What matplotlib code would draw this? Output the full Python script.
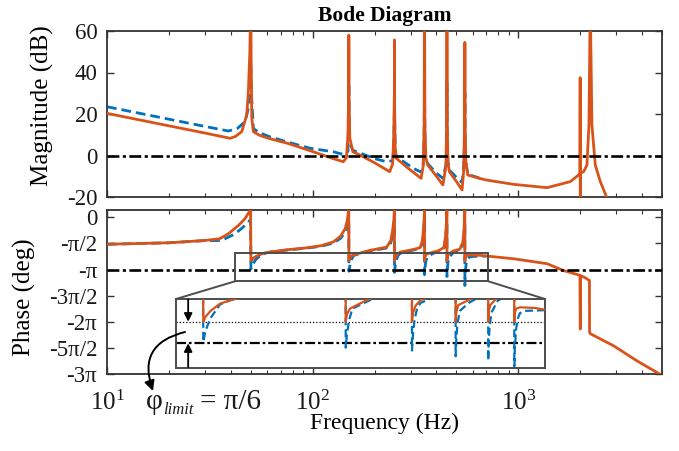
import matplotlib
matplotlib.use('Agg')
import matplotlib.pyplot as plt
from matplotlib.patches import Rectangle, ConnectionPatch
from matplotlib.ticker import NullLocator, FixedLocator, FixedFormatter

plt.rcParams['font.family'] = ['Liberation Serif', 'DejaVu Serif']
plt.rcParams['mathtext.fontset'] = 'custom'
plt.rcParams['mathtext.rm'] = 'Liberation Serif'
plt.rcParams['mathtext.it'] = 'Liberation Serif:italic'
plt.rcParams['mathtext.bf'] = 'Liberation Serif:bold'
plt.rcParams['axes.unicode_minus'] = False

ORANGE = '#D95319'
BLUE = '#0072BD'
GRAY = '#4d4d4d'

# ---------------- data ----------------
mag_orange_f = [10, 20, 30, 39.7, 42, 45.2, 47.8, 48.7, 49.5, 50,
                50.3, 50.6, 51.5, 55, 60.9, 76, 92, 110, 126, 141,
                146, 148.5, 149.7, 150, 150.3, 151.6, 157, 170, 200, 237,
                245, 248, 249.7, 250, 250.3, 252, 255, 290, 337, 345,
                348.5, 350, 351.5, 355, 363, 400, 430, 445, 448.5, 450,
                451.5, 455, 462, 500, 533, 542, 548.5, 550, 551.5, 556,
                568, 647, 697, 949, 1380, 1791, 1963, 1995, 2000, 2002,
                2006, 2080, 2157, 2207, 2239, 2281, 2369, 2506, 2704, 2900]
mag_orange_db = [20.3, 14.3, 10.8, 8.3, 9.1, 11.5, 19.5, 30.7, 50, 75,
                 40, 18, 11.5, 9.8, 8.3, 5.8, 3.1, 0.5, -1.5, -3.0,
                 -1, 10, 30, 58, 30, 8.4, 1.8, 0.2, -3.5, -7.8,
                 -4, 10, 30, 55.7, 25, 4, -1.3, -6, -11, -5,
                 15, 75, 15, -1, -4.6, -10, -14.2, -5, 15, 75,
                 15, -3, -7.8, -12.5, -16.6, -8, 15, 54.5, 15, -3,
                 -9.4, -11, -11.8, -13.9, -15.5, -12.6, -9.4, -8.8, 37.5, -40,
                 -8.5, -7.8, -4.6, 14.7, 75, 14.7, -4.6, -12.6, -20.6, -28]

mag_blue_f = [10, 20, 30, 38.9, 43, 46.9, 48.5, 49.6, 50, 50.4,
              51.5, 55, 62, 76, 97, 126, 141, 148.5, 149.7, 150,
              150.3, 151.6, 157, 200, 229, 245, 248, 249.7, 250, 250.3,
              252, 255, 309, 337, 345, 348.5, 350, 351.5, 355, 363,
              400, 430, 445, 448.5, 450, 451.5, 455, 462, 500, 533,
              542, 548.5, 550, 551.5, 556, 568, 651]
mag_blue_db = [23.5, 17.5, 14.0, 11.8, 13.0, 16.3, 22, 35, 45, 30,
               13, 11, 9, 6.4, 3.5, 1.8, 0.5, 2, 20, 35,
               20, 6, 2.5, -1.5, -3, -2.5, 5, 20, 35, 20,
               3, -0.5, -6.2, -8, -4, 8, 35, 8, -1, -4,
               -8.5, -11, -4.5, 8, 35, 8, -3, -7, -10.5, -13,
               -7, 8, 30, 8, -3, -9, -11]

ph_orange_f = [10, 20, 29.9, 35.3, 38.9, 43.6, 46.9, 49.1, 49.9,
               50.1, 51, 53, 57, 63, 75, 92, 110, 126, 137, 144, 147.5, 149.9,
               150.1, 151.5, 155, 167, 190, 229, 240, 245, 248.5, 249.9,
               250.1, 252, 257, 267, 300, 333, 342, 346, 348.8, 349.9,
               350.1, 352, 357, 387, 410, 435, 443, 447, 449.9,
               450.1, 452, 457, 484, 520, 538, 545, 549.9,
               550.1, 552, 558, 575, 647, 949, 1380, 1660, 1995, 2003,
               2005, 2100, 2219, 2222, 2250, 2911, 3785, 5000]
ph_orange_deg = [-93, -88, -80, -74, -57, -28, -5, 18, 30,
                 -150, -143, -135, -125, -119, -112, -106, -98, -85, -65, -39, -10, 30,
                 -150, -140, -132, -125, -114, -103, -80, -45, -5, 30,
                 -150, -138, -128, -120, -113, -105, -80, -40, 0, 30,
                 -150, -137, -127, -120, -115, -104, -65, -25, 30,
                 -150, -136, -127, -116, -110, -85, -40, 30,
                 -150, -138, -132, -130, -131, -143, -160, -183.5, -200, -385,
                 -201, -207, -218, -397, -402, -443, -495, -545]

ph_blue_f = [10, 20, 29.9, 35.3, 37.5, 42, 45.9, 48.5, 49.9,
             50.1, 51, 53, 57, 62, 68, 75, 92, 110, 126, 137, 144, 147.5, 149.9,
             150.1, 151.5, 154, 158, 167, 190, 229, 240, 245, 248.5, 249.9,
             250.1, 252, 255, 260, 267, 300, 333, 342, 346, 348.8, 349.9,
             350.1, 351.5, 355, 362, 387, 410, 435, 443, 447, 449.9,
             450.1, 451.5, 455, 462, 484, 520, 538, 545, 549.9,
             550.1, 552, 558, 566, 575, 600, 697]
ph_blue_deg = [-93, -88, -80.5, -80, -74, -57, -34, -18, -8,
               -178, -162, -145, -126, -120, -117, -113, -107, -100, -89, -72, -50, -25, -10,
               -186, -168, -148, -132, -127, -116, -106, -88, -60, -25, -12,
               -190, -168, -148, -132, -124, -115, -108, -88, -55, -20, -12,
               -198, -178, -152, -135, -124, -118, -107, -75, -40, -15,
               -204, -182, -155, -137, -121, -113, -92, -55, -15,
               -235, -190, -160, -145, -138, -135, -134]

mag_ticks = [-20, 0, 20, 40, 60]
mag_ticklabels = ['-20', '0', '20', '40', '60']
ph_ticks = [0, -90, -180, -270, -360, -450, -540]
ph_ticklabels = ['0', '-π/2', '-π', '-3π/2', '-2π', '-5π/2', '-3π']
x_ticks = [10, 100, 1000]
x_ticklabels = [r'$10^{1}$', r'$10^{2}$', r'$10^{3}$']

ref_mag = 0
ref_phase = -180
phi_limit_line = -150
zoom_src_f = (42, 714)
zoom_src_p = (-220.5, -124.6)
inset_f = (40.6, 697)
inset_p = (-214.3, -118.5)

# ---------------- figure ----------------
W, H = 679, 451
fig = plt.figure(figsize=(W / 100, H / 100), dpi=100)
ax1 = fig.add_axes([107 / W, 1 - 197 / H, 555 / W, 166 / H])
ax2 = fig.add_axes([107 / W, 1 - 374 / H, 555 / W, 164 / H])

DASHDOT = (4.5, 1.3, 1.2, 1.3)
BLUEDASH = (3.5, 1.8)

for ax in (ax1, ax2):
    ax.set_xscale('log')
    ax.set_xlim(10, 5000)
    ax.tick_params(which='both', direction='in', top=True, right=True,
                   color='#333333', labelsize=16.5, labelcolor='#1a1a1a')
    ax.tick_params(which='major', length=5, width=1.0, pad=7)
    ax.tick_params(which='minor', length=3, width=0.8)
    for sp in ax.spines.values():
        sp.set_color('#333333')
        sp.set_linewidth(1.3)

# magnitude
ax1.plot(mag_blue_f, mag_blue_db, color=BLUE, lw=2.0, dashes=BLUEDASH, zorder=2)
ax1.plot(mag_orange_f, mag_orange_db, color=ORANGE, lw=2.0, zorder=3)
ax1.axhline(ref_mag, color='k', lw=1.9, dashes=DASHDOT, zorder=4)
ax1.set_ylim(-20, 60)
ax1.yaxis.set_major_locator(FixedLocator(mag_ticks))
ax1.yaxis.set_major_formatter(FixedFormatter(mag_ticklabels))
ax1.tick_params(labelbottom=False)
ax1.set_ylabel('Magnitude (dB)', fontsize=18)
ax1.yaxis.set_label_coords(-0.095, 0.55)
ax1.set_title('Bode Diagram', fontsize=15.5, fontweight='bold', pad=7)

# phase
ax2.plot(ph_blue_f, ph_blue_deg, color=BLUE, lw=2.0, dashes=BLUEDASH, zorder=2)
ax2.plot(ph_orange_f, ph_orange_deg, color=ORANGE, lw=2.0, zorder=3)
ax2.axhline(ref_phase, color='k', lw=1.9, dashes=DASHDOT, zorder=4)
ax2.set_ylim(-540, 25)
ax2.yaxis.set_major_locator(FixedLocator(ph_ticks))
ax2.yaxis.set_major_formatter(FixedFormatter(ph_ticklabels))
ax2.xaxis.set_major_locator(FixedLocator(x_ticks))
ax2.xaxis.set_major_formatter(FixedFormatter(x_ticklabels))
ax2.tick_params(axis='x', which='major', pad=12, labelsize=18)
ax2.set_ylabel('Phase (deg)', fontsize=18)
ax2.yaxis.set_label_coords(-0.128, 0.47)
ax2.set_xlabel('Frequency (Hz)', fontsize=17)
ax2.xaxis.set_label_coords(0.5, -0.235)

# zoom source rectangle
ax2.add_patch(Rectangle((zoom_src_f[0], zoom_src_p[0]),
                        zoom_src_f[1] - zoom_src_f[0],
                        zoom_src_p[1] - zoom_src_p[0],
                        fill=False, edgecolor=GRAY, lw=1.4, zorder=5))

# inset
axins = fig.add_axes([176 / W, 1 - 368 / H, 369 / W, 69 / H])
axins.set_xscale('log')
axins.set_xlim(*inset_f)
axins.set_ylim(*inset_p)
axins.xaxis.set_major_locator(NullLocator())
axins.xaxis.set_minor_locator(NullLocator())
axins.yaxis.set_major_locator(NullLocator())
for sp in axins.spines.values():
    sp.set_color(GRAY)
    sp.set_linewidth(1.4)
axins.axhline(phi_limit_line, color='k', lw=0.9, dashes=(1, 1.6), zorder=1)
axins.axhline(ref_phase, color='k', lw=1.6, dashes=DASHDOT, zorder=1)
axins.plot(ph_blue_f, ph_blue_deg, color=BLUE, lw=1.6, dashes=BLUEDASH, zorder=2)
axins.plot(ph_orange_f, ph_orange_deg, color=ORANGE, lw=1.6, zorder=3)

arrow_kw = dict(arrowstyle='-|>', color='k', lw=1.3, mutation_scale=12,
                shrinkA=0, shrinkB=0)
axins.annotate('', xy=(0.033, phi_limit_line), xytext=(0.033, -119),
               xycoords=('axes fraction', 'data'), arrowprops=arrow_kw)
axins.annotate('', xy=(0.033, ref_phase), xytext=(0.033, -213),
               xycoords=('axes fraction', 'data'), arrowprops=arrow_kw)

# connector lines
for fx, ax_frac in ((zoom_src_f[0], 0), (zoom_src_f[1], 1)):
    con = ConnectionPatch(xyA=(fx, zoom_src_p[0]), coordsA=ax2.transData,
                          xyB=(ax_frac, 1), coordsB=axins.transAxes,
                          color=GRAY, lw=1.4)
    fig.add_artist(con)

# curved arrow and label
axins.annotate('', xy=(153 / W, 1 - 391 / H), xytext=(185 / W, 1 - 332 / H),
               xycoords='figure fraction', textcoords='figure fraction',
               arrowprops=dict(arrowstyle='-|>', color='k', lw=1.4,
                               mutation_scale=15, shrinkA=0, shrinkB=0,
                               connectionstyle='arc3,rad=0.55'),
               annotation_clip=False)
fig.text(146 / W, 1 - 409 / H, 'φ', fontsize=21, va='baseline', ha='left',
         color='#1a1a1a')
fig.text(163 / W, 1 - 414 / H, 'limit', fontsize=12, style='italic',
         va='baseline', ha='left', color='#1a1a1a')
fig.text(200 / W, 1 - 409 / H, '= π/6', fontsize=21, va='baseline', ha='left',
         color='#1a1a1a')

fig.savefig('out.png', dpi=100)
